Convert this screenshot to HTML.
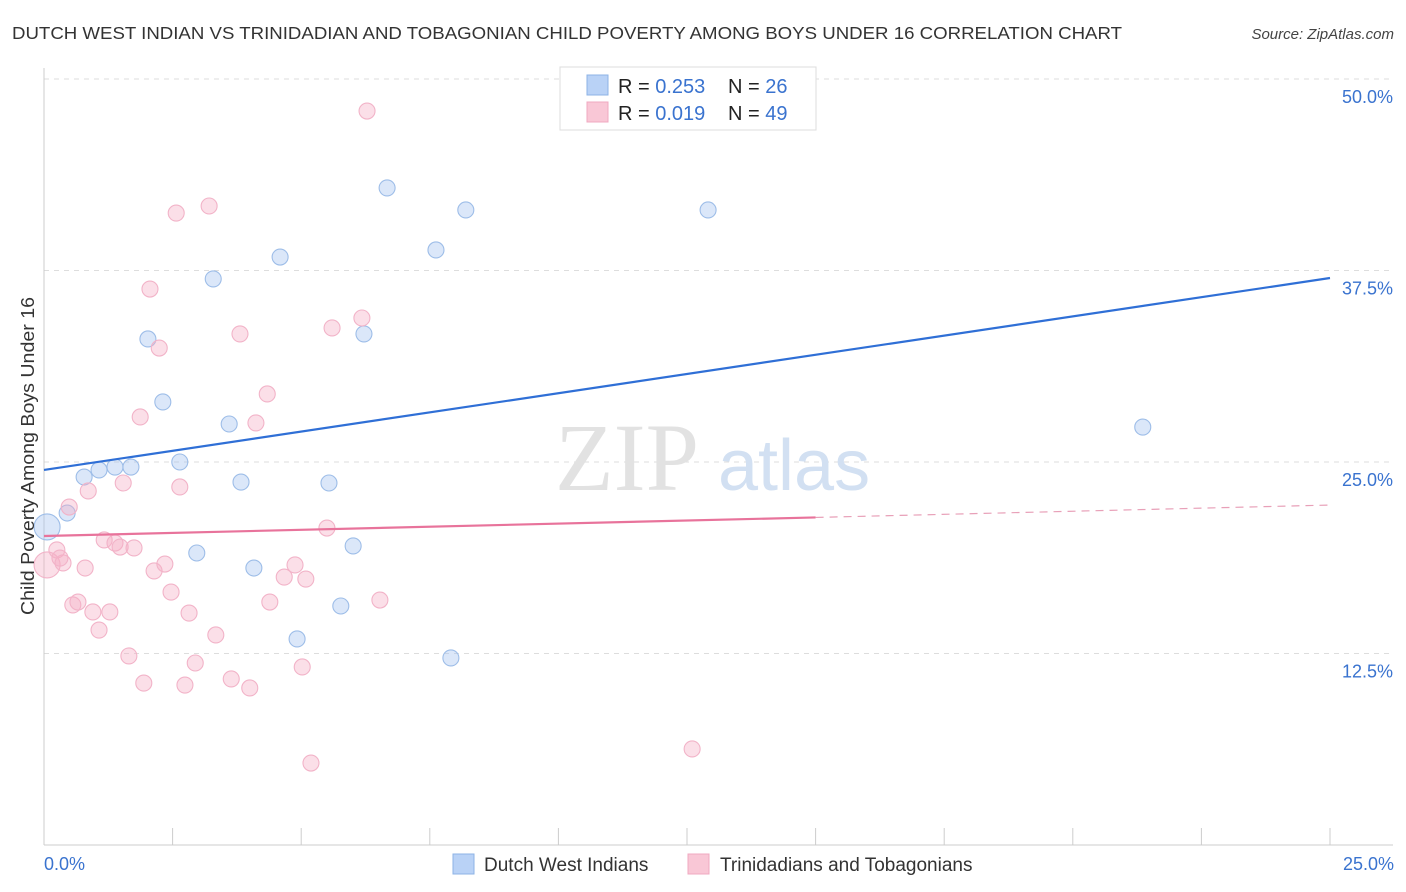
<!DOCTYPE html>
<html><head><meta charset="utf-8">
<style>
body{margin:0;background:#fff;font-family:"Liberation Sans",sans-serif;}
svg{display:block}
</style></head>
<body>
<svg id="chart" width="1406" height="892">
<text x="12" y="39" font-size="17.5" fill="#333" textLength="1110" lengthAdjust="spacingAndGlyphs">DUTCH WEST INDIAN VS TRINIDADIAN AND TOBAGONIAN CHILD POVERTY AMONG BOYS UNDER 16 CORRELATION CHART</text>
<text x="1394" y="39" font-size="15" fill="#444" font-style="italic" text-anchor="end">Source: ZipAtlas.com</text>
<g id="grid"></g>
<text x="555" y="490" font-size="96" fill="#e2e2e2" font-family="Liberation Serif,serif">ZIP</text>
<text x="718" y="490" font-size="72" fill="#d2e0f2">atlas</text>
<g id="marks"></g>
<text transform="translate(34,456) rotate(-90)" font-size="18" fill="#333" text-anchor="middle" textLength="318" lengthAdjust="spacingAndGlyphs">Child Poverty Among Boys Under 16</text>
<g>
<rect x="560" y="67" width="256" height="63" fill="#fff" stroke="#ddd"/>
<rect x="587" y="75" width="21" height="20" fill="#b9d2f6" stroke="#8db3e6"/>
<rect x="587" y="102" width="21" height="20" fill="#f9c7d6" stroke="#f0a8c0"/>
<text x="618" y="93" font-size="20" fill="#222">R = <tspan fill="#3a73cf">0.253</tspan></text>
<text x="728" y="93" font-size="20" fill="#222">N = <tspan fill="#3a73cf">26</tspan></text>
<text x="618" y="120" font-size="20" fill="#222">R = <tspan fill="#3a73cf">0.019</tspan></text>
<text x="728" y="120" font-size="20" fill="#222">N = <tspan fill="#3a73cf">49</tspan></text>
</g>
<g>
<rect x="453" y="854" width="21" height="20" fill="#b9d2f6" stroke="#8db3e6"/>
<text x="484" y="871" font-size="19" fill="#333">Dutch West Indians</text>
<rect x="688" y="854" width="21" height="20" fill="#f9c7d6" stroke="#f0a8c0"/>
<text x="720" y="871" font-size="19" fill="#333">Trinidadians and Tobagonians</text>
</g>
<text x="44" y="870" font-size="18" fill="#3a73cf">0.0%</text>
<text x="1394" y="870" font-size="18" fill="#3a73cf" text-anchor="end">25.0%</text>
</svg>
<script>
const yTicks=[12.5,25,37.5,50];
const yTickLabels=["12.5%","25.0%","37.5%","50.0%"];
const xTicks=[0,2.5,5,7.5,10,12.5,15,17.5,20,22.5,25];
const blueX=[0.06,0.45,0.78,1.07,1.38,1.69,2.02,2.31,2.64,2.97,3.29,3.60,3.83,4.08,4.59,4.92,5.54,5.77,6.01,6.22,6.67,7.62,7.91,8.20,12.91,21.36];
const blueY=[20.76,21.67,24.02,24.48,24.67,24.67,33.03,28.92,25.0,19.06,36.95,27.48,23.69,18.08,38.38,13.45,23.63,15.60,19.52,33.36,42.89,38.84,12.21,41.45,41.45,27.28];
const pinkX=[0.06,0.25,0.37,0.49,0.56,0.66,0.80,0.86,0.95,1.07,1.28,1.17,1.38,1.48,1.54,1.65,1.75,1.87,1.94,2.06,2.14,2.24,2.35,2.47,2.57,2.64,2.74,2.82,2.94,3.21,3.34,3.64,3.81,4.00,4.12,4.34,4.39,4.67,4.88,5.02,5.09,5.19,5.50,5.60,6.18,6.28,6.53,12.60,0.31];
const pinkY=[18.28,19.26,18.41,22.06,15.67,15.86,18.08,23.11,15.21,14.03,15.21,19.91,19.71,19.45,23.63,12.34,19.39,27.94,10.57,36.29,17.89,32.44,18.34,16.51,41.25,23.37,10.44,15.14,11.88,41.71,13.71,10.84,33.36,10.25,27.55,29.44,15.86,17.49,18.28,11.62,17.36,5.35,20.69,33.75,34.40,47.91,15.99,6.27,18.73];
const blueTrend=[24.48,37.01];
const pinkTrend=[20.17,22.19];
const pinkSolidEnd=15;
const NS="http://www.w3.org/2000/svg";
const X=v=>44+v*51.44, Y=v=>845-v*15.32;
const grid=document.getElementById('grid'), marks=document.getElementById('marks');
function mk(tag,attrs,parent){const e=document.createElementNS(NS,tag);for(const k in attrs)e.setAttribute(k,attrs[k]);parent.appendChild(e);return e;}
yTicks.forEach((t,i)=>{
 const l=mk('line',{x1:44,x2:1393,y1:Y(t),y2:Y(t),stroke:'#ddd','stroke-dasharray':'5,5'},grid);
 
 
 const tx=mk('text',{x:1393,y:Y(t)+24,'font-size':18,fill:'#3a73cf','text-anchor':'end'},grid);
 tx.textContent=yTickLabels[i];
 
 
});
const ax=mk('line',{x1:44,x2:1393,y1:845,y2:845,stroke:'#ccc'},grid);


const ay=mk('line',{x1:44,x2:44,y1:68,y2:845,stroke:'#ccc'},grid);


xTicks.forEach(t=>{
 const l=mk('line',{x1:X(t),x2:X(t),y1:828,y2:845,stroke:'#ccc'},grid);
 
 
});
function pts(xs,ys,fill,stroke,name){
 xs.forEach((x,i)=>{
  const c=mk('circle',{cx:X(x),cy:Y(ys[i]),r:i===0?13:8,fill:fill,stroke:stroke,'stroke-width':1.1},marks);
  
  
 });
}
pts(blueX,blueY,'rgba(165,195,240,0.4)','#9dbde8','dutch-west-indian-point');
pts(pinkX,pinkY,'rgba(245,175,198,0.4)','#f2b3c8','trinidadian-point');
const bl=mk('line',{x1:X(0),y1:Y(blueTrend[0]),x2:X(25),y2:Y(blueTrend[1]),stroke:'#2f6fd6','stroke-width':2.2},marks);


const pm=pinkTrend[0]+(pinkTrend[1]-pinkTrend[0])*pinkSolidEnd/25;
const pl=mk('line',{x1:X(0),y1:Y(pinkTrend[0]),x2:X(pinkSolidEnd),y2:Y(pm),stroke:'#e8739b','stroke-width':2.2},marks);


const pd=mk('line',{x1:X(pinkSolidEnd),y1:Y(pm),x2:X(25),y2:Y(pinkTrend[1]),stroke:'#e8a0b8','stroke-width':1.2,'stroke-dasharray':'8,6'},marks);


</script>
</body></html>
